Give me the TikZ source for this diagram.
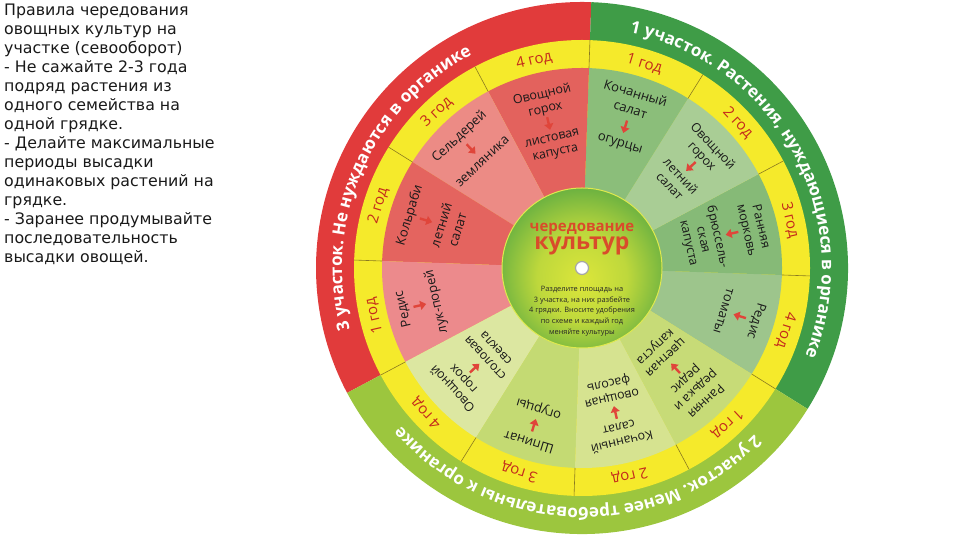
\documentclass[tikz,border=0pt]{standalone}
\usepackage{fontspec}
\setmainfont{DejaVu Sans}
\newfontfamily\wheelfont{Open Sans}
\usetikzlibrary{decorations.text,calc,arrows.meta}
\definecolor{ringred}{HTML}{E13B3B}
\definecolor{ringgreen}{HTML}{3F9C47}
\definecolor{ringlight}{HTML}{9CC63E}
\definecolor{ringyellow}{HTML}{F5EA2B}
\definecolor{r1}{HTML}{E3625D}
\definecolor{r2}{HTML}{EC8B85}
\definecolor{r3}{HTML}{E4645F}
\definecolor{r4}{HTML}{EC8A8C}
\definecolor{g1}{HTML}{8BBE7A}
\definecolor{g2}{HTML}{A9CD95}
\definecolor{g3}{HTML}{86BA77}
\definecolor{g4}{HTML}{9DC58C}
\definecolor{l1}{HTML}{C7DB77}
\definecolor{l2}{HTML}{D6E390}
\definecolor{l3}{HTML}{C4DA73}
\definecolor{l4}{HTML}{DCE7A1}
\definecolor{yearred}{HTML}{C42A1C}
\definecolor{arrowred}{HTML}{E0453A}
\definecolor{titlered}{HTML}{D94B2B}
\definecolor{cyel}{HTML}{DCE63A}
\definecolor{cgrn}{HTML}{46A043}
\definecolor{divcol}{HTML}{8A7A20}
\pgfdeclareradialshading{centershade}{\pgfpoint{0bp}{-4bp}}{color(0bp)=(cyel); color(14bp)=(cyel!80!cgrn); color(33bp)=(cgrn); color(50bp)=(cgrn)}
\newcommand\ringtxtfont{\wheelfont\bfseries\fontsize{17}{17}\selectfont}
\newcommand\darr{\tikz[baseline=-3pt,x=1pt,y=1pt]\draw[draw=arrowred,line width=2.4pt,-{Triangle[length=6pt,width=9pt]}] (0,7) -- (0,-6);}
\begin{document}
\begin{tikzpicture}[x=1pt,y=1pt,
  leftnote/.style={anchor=north west,inner sep=0pt,align=left,text=black!90,font=\fontsize{15.8}{19}\selectfont},
  yearlbl/.style={text=yearred,inner sep=0pt,font=\wheelfont\fontsize{15}{15}\selectfont},
  croptxt/.style={inner sep=0pt,align=center,text=black!90,font=\wheelfont\fontsize{13}{17}\selectfont},
  tightcrop/.style={font=\wheelfont\fontsize{12.5}{14.8}\selectfont},
  divline/.style={draw=divcol,line width=0.6pt},
  ringtext/.style={decorate,decoration={text along path,text align=center,text color=white,text={|\ringtxtfont|#1}}}
]
\useasboundingbox (0,0) rectangle (960,540);
\coordinate (C) at (582,272);

% left note
\node[leftnote] (note) at (4,536) {Правила чередования\\овощных культур на\\участке (севооборот)\\- Не сажайте 2-3 года\\подряд растения из\\одного семейства на\\одной грядке.\\- Делайте максимальные\\периоды высадки\\одинаковых растений на\\грядке.\\- Заранее продумывайте\\последовательность\\высадки овощей.};

% outer sections
\fill[ringred] (C) -- ++(88:266) arc[start angle=88,end angle=208,radius=266] -- cycle;
\fill[ringgreen] (C) -- ++(-32:266) arc[start angle=-32,end angle=88,radius=266] -- cycle;
\fill[ringlight] (C) -- ++(208:266) arc[start angle=208,end angle=328,radius=266] -- cycle;
\fill[ringyellow] (C) circle[radius=228];

% inner sectors
\foreach \a/\col in {-32/g4,-2/g3,28/g2,58/g1,88/r1,118/r2,148/r3,178/r4,208/l4,238/l3,268/l2,298/l1}{
  \fill[\col] (C) -- ++(\a:200) arc[start angle=\a,end angle=\a+30,radius=200] -- cycle;
  \draw[divline] ($(C)+(\a:200)$) -- ($(C)+(\a:228)$);
}

% year labels
\foreach \a/\t in {-32/4,-2/3,28/2,58/1,88/4,118/3,148/2,178/1,208/4,238/3,268/2,298/1}{
  \node[yearlbl,rotate=\a-75] (y\a) at ($(C)+(\a+15:213)$) {\t\ год};
}

% ring texts
\path[ringtext={3 участок. Не нуждаются в органике}] ($(C)+(207:240)$) arc[start angle=207,end angle=105,radius=240];
\path[ringtext={1 участок. Растения, нуждающиеся в органике}] ($(C)+(86:240)$) arc[start angle=86,end angle=-29,radius=240];
\path[ringtext={2 участок. Менее требовательны к органике}] ($(C)+(324:240)$) arc[start angle=324,end angle=213,radius=240];

% sector texts
\node[croptxt,rotate=-17] (s1) at ($(C)+(73:156)$) {Кочанный\\салат\\\darr\\огурцы};
\node[croptxt,rotate=-47,tightcrop] (s2) at ($(C)+(43:150)$) {Овощной\\горох\\\darr\\летний\\салат};
\node[croptxt,rotate=-77,tightcrop] (s3) at ($(C)+(13:146)$) {Ранняя\\морковь\\\darr\\брюссель-\\ская\\капуста};
\node[croptxt,rotate=-107] (s4) at ($(C)+(-17:166)$) {Редис\\\darr\\томаты};
\node[croptxt,rotate=-137,tightcrop] (s5) at ($(C)+(313:144)$) {Ранняя\\редька и\\редис\\\darr\\цветная\\капуста};
\node[croptxt,rotate=193,tightcrop] (s6) at ($(C)+(283:148)$) {Кочанный\\салат\\\darr\\овощная\\фасоль};
\node[croptxt,rotate=163] (s7) at ($(C)+(253:164)$) {Шпинат\\\darr\\огурцы};
\node[croptxt,rotate=133,tightcrop] (s8) at ($(C)+(223:148)$) {Овощной\\горох\\\darr\\столовая\\свекла};
\node[croptxt,rotate=103] (s9) at ($(C)+(193:166)$) {Редис\\\darr\\лук-порей};
\node[croptxt,rotate=73] (s10) at ($(C)+(163:156)$) {Кольраби\\\darr\\летний\\салат};
\node[croptxt,rotate=43] (s11) at ($(C)+(133:164)$) {Сельдерей\\\darr\\земляника};
\node[croptxt,rotate=13,tightcrop] (s12) at ($(C)+(103:148)$) {Овощной\\горох\\\darr\\листовая\\капуста};

% centre disc
\shade[shading=centershade] (C) circle[radius=80];
\draw[cyel!90!white,line width=1pt] (C) circle[radius=80];
\fill[white] (C) circle[radius=6.5];
\draw[gray!70,line width=1.2pt] (C) circle[radius=6.5];
\node[text=titlered,font=\wheelfont\bfseries\fontsize{15}{15}\selectfont,inner sep=0pt] (t1) at ($(C)+(0,39)$) {чередование};
\node[text=titlered,font=\wheelfont\bfseries\fontsize{23}{23}\selectfont,inner sep=0pt] (t2) at ($(C)+(0,22)$) {культур};
\node[text=black!85,align=center,inner sep=0pt,font=\wheelfont\fontsize{7.4}{10.7}\selectfont] (t3) at ($(C)+(0,-43)$) {Разделите площадь на\\3 участка, на них разбейте\\4 грядки. Вносите удобрения\\по схеме и каждый год\\меняйте культуры};
\end{tikzpicture}
\end{document}
